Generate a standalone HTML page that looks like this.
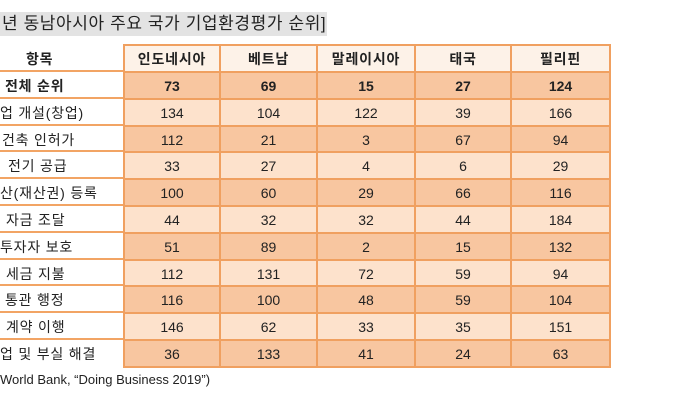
<!DOCTYPE html>
<html><head><meta charset="utf-8"><style>
body{margin:0;width:681px;height:400px;background:#fff;position:relative;overflow:hidden;font-family:"Liberation Sans","Noto Sans CJK KR",sans-serif;color:#222}
.t{position:absolute;left:0;top:12px;width:327px;height:24px;background:#e3e3e3;font-size:17px;letter-spacing:0.6px;line-height:24px;padding-left:2px;box-sizing:border-box;white-space:nowrap}
.c{position:absolute;box-sizing:border-box;text-align:center;font-size:14px;white-space:nowrap}
.l{position:absolute;font-size:14px;letter-spacing:0.8px;white-space:nowrap}
.hl{position:absolute;left:0;width:123px;height:2px;background:#f2a464}
</style></head><body>
<div class="t">년 동남아시아 주요 국가 기업환경평가 순위]</div>
<div id="g"></div>
<div class="l" style="left:0;top:372px;font-size:13px;letter-spacing:0">World Bank, “Doing Business 2019”)</div>
<script>
var cols=[123,219,316,414,510,609];
var heads=["인도네시아","베트남","말레이시아","태국","필리핀"];
var labels=[["항목",26],["전체 순위",5],["업 개설(창업)",0],["건축 인허가",2],["전기 공급",8],["산(재산권) 등록",0],["자금 조달",6],["투자자 보호",0],["세금 지불",6],["통관 행정",5],["계약 이행",6],["업 및 부실 해결",0]];
var data=[[73,69,15,27,124],[134,104,122,39,166],[112,21,3,67,94],[33,27,4,6,29],[100,60,29,66,116],[44,32,32,44,184],[51,89,2,15,132],[112,131,72,59,94],[116,100,48,59,104],[146,62,33,35,151],[36,133,41,24,63]];
var h="";var top0=44,hh=27,rh=26.8;
function rowTop(i){return i==0?top0:top0+hh+(i-1)*rh;}
for(var r=0;r<12;r++){
 var y=rowTop(r),ht=r==0?hh:rh;
 var bg=r==0?"#fdf2e8":(r%2==1?"#f8c6a0":"#fde2cc");
 var bold=r<=1?"font-weight:bold;":"";
 h+='<div class="l" style="left:'+labels[r][1]+'px;top:'+(y+5)+'px;'+bold+'">'+labels[r][0]+'</div>';
 if(r>0)h+='<div class="hl" style="top:'+(y-1)+'px"></div>';
 for(var c=0;c<5;c++){
  var txt=r==0?heads[c]:data[r-1][c];
  var ls=r==0?"letter-spacing:0.8px;":"";
  h+='<div class="c" style="left:'+cols[c]+'px;top:'+y+'px;width:'+(cols[c+1]-cols[c]+2)+'px;height:'+(ht+2)+'px;line-height:'+ht+'px;background:'+bg+';border:2px solid #f0a060;'+bold+ls+'">'+txt+'</div>';
 }
}
document.getElementById("g").innerHTML=h;
</script>
</body></html>
